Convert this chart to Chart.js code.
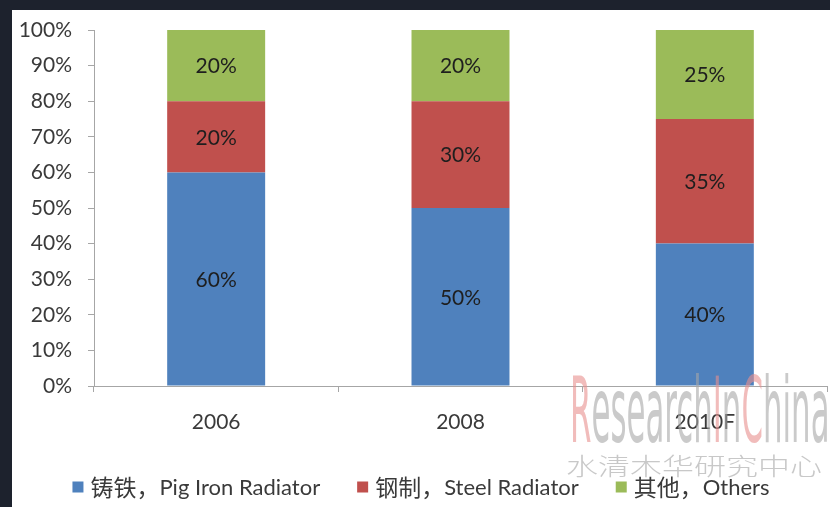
<!DOCTYPE html>
<html>
<head>
<meta charset="utf-8">
<script src="https://cdn.jsdelivr.net/npm/chart.js@4.4.1/dist/chart.umd.min.js"></script>
<style>
  html, body { margin:0; padding:0; background:#1d222d; width:830px; height:507px; overflow:hidden; }
  #wrap { position:absolute; left:12px; top:10px; width:818px; height:497px; background:#ffffff; }
  canvas { display:block; }
</style>
</head>
<body>
<div id="wrap"><canvas id="c" width="818" height="497"></canvas></div>
<script>
const categories = ['2006', '2008', '2010F'];
const seriesNamesZh = ['铸铁，', '钢制，', '其他，'];
const seriesNamesEn = ['Pig Iron Radiator', 'Steel Radiator', 'Others'];
const pigIron = [60, 50, 40];
const steel = [20, 30, 35];
const others = [20, 20, 25];
const yTicks = [0, 10, 20, 30, 40, 50, 60, 70, 80, 90, 100];

const colors = ['#4f81bd', '#c0504d', '#9bbb59'];
const FONT = "Lato, 'Noto Sans CJK SC', sans-serif";
const CJK = "'Noto Sans CJK SC', sans-serif";

const labelPlugin = {
  id: 'barLabels',
  afterDatasetsDraw(chart) {
    const ctx = chart.ctx;
    ctx.save();
    ctx.font = '21px ' + FONT;
    ctx.fillStyle = '#1e1e1e';
    ctx.textAlign = 'center';
    ctx.textBaseline = 'middle';
    chart.data.datasets.forEach((ds, i) => {
      chart.getDatasetMeta(i).data.forEach((bar, j) => {
        const cy = (bar.y + bar.base) / 2;
        ctx.fillText(ds.data[j] + '%', bar.x, cy + 1);
      });
    });
    ctx.restore();
  }
};

const legendPlugin = {
  id: 'customLegend',
  afterDraw(chart) {
    const ctx = chart.ctx;
    ctx.save();
    ctx.textBaseline = 'middle';
    ctx.textAlign = 'left';
    const box = 11, gapText = 7, gapItem = 37;
    const zhFont = '23px ' + CJK, enFont = '22px ' + FONT;
    const parts = chart.data.datasets.map((ds, i) => {
      ctx.font = zhFont; const wz = ctx.measureText(seriesNamesZh[i]).width;
      ctx.font = enFont; const we = ctx.measureText(seriesNamesEn[i]).width;
      return { wz, we, w: box + gapText + wz + we };
    });
    const total = parts.reduce((a, p) => a + p.w, 0) + gapItem * (parts.length - 1);
    let x = (chart.width - total) / 2;
    const y = 477;
    chart.data.datasets.forEach((ds, i) => {
      ctx.fillStyle = ds.backgroundColor;
      ctx.fillRect(x, y - box / 2, box, box);
      ctx.fillStyle = '#3a3a3a';
      ctx.font = zhFont;
      ctx.fillText(seriesNamesZh[i], x + box + gapText, y);
      ctx.font = enFont;
      ctx.fillText(seriesNamesEn[i], x + box + gapText + parts[i].wz, y + 1);
      x += parts[i].w + gapItem;
    });
    ctx.restore();
  }
};

const watermarkPlugin = {
  id: 'watermark',
  afterDraw(chart) {
    const ctx = chart.ctx;
    ctx.save();
    ctx.globalAlpha = 0.6;
    ctx.font = "86px 'DejaVu Sans Condensed', sans-serif";
    ctx.textBaseline = 'alphabetic';
    ctx.textAlign = 'left';
    const parts = [['R', '#e8908e'], ['esearch', '#a6a6a6'], ['I', '#e8908e'], ['n', '#a6a6a6'], ['C', '#e8908e'], ['hina', '#a6a6a6']];
    const full = parts.map(p => p[0]).join('');
    const w = ctx.measureText(full).width;
    const sx = 258 / w;
    ctx.translate(558, 432);
    ctx.scale(sx, 1.05);
    let x = 0;
    parts.forEach(p => {
      ctx.fillStyle = p[1];
      ctx.fillText(p[0], x, 0);
      x += ctx.measureText(p[0]).width;
    });
    ctx.restore();

    ctx.save();
    ctx.globalAlpha = 0.7;
    ctx.font = "300 24px 'Noto Sans CJK SC', sans-serif";
    ctx.fillStyle = '#b0b0b0';
    ctx.textBaseline = 'middle';
    const t = '水清木华研究中心';
    const tw = ctx.measureText(t).width;
    ctx.translate(554, 456);
    ctx.scale(256 / tw, 1);
    ctx.fillText(t, 0, 0);
    ctx.restore();
  }
};

new Chart(document.getElementById('c'), {
  type: 'bar',
  data: {
    labels: categories,
    datasets: [
      { label: seriesNamesZh[0] + seriesNamesEn[0], data: pigIron, backgroundColor: colors[0] },
      { label: seriesNamesZh[1] + seriesNamesEn[1], data: steel, backgroundColor: colors[1] },
      { label: seriesNamesZh[2] + seriesNamesEn[2], data: others, backgroundColor: colors[2] }
    ]
  },
  options: {
    responsive: false,
    animation: false,
    devicePixelRatio: 1,
    layout: { padding: { top: 20, right: 3, left: 0, bottom: 41 } },
    datasets: { bar: { categoryPercentage: 1, barPercentage: 0.401, borderWidth: 0 } },
    plugins: { legend: { display: false }, tooltip: { enabled: false } },
    scales: {
      x: {
        stacked: true,
        offset: true,
        afterFit(s) { s.height = 80; },
        grid: { display: true, drawOnChartArea: false, drawTicks: true, tickLength: 6, offset: true, color: '#a6a6a6' },
        border: { display: true, color: '#a6a6a6', width: 1 },
        ticks: { color: '#3a3a3a', font: { family: FONT, size: 21 }, padding: 18 }
      },
      y: {
        stacked: true,
        min: 0,
        max: 100,
        afterFit(s) { s.width = 82; s.paddingTop = 0; s.paddingBottom = 0; },
        afterBuildTicks(s) { s.ticks = yTicks.map(v => ({ value: v })); },
        grid: { display: true, drawOnChartArea: false, drawTicks: true, tickLength: 6, color: '#a6a6a6' },
        border: { display: true, color: '#a6a6a6', width: 1 },
        ticks: { color: '#3a3a3a', font: { family: FONT, size: 21 }, padding: 16, callback: v => v + '%' }
      }
    }
  },
  plugins: [labelPlugin, legendPlugin, watermarkPlugin]
});
</script>
</body>
</html>
